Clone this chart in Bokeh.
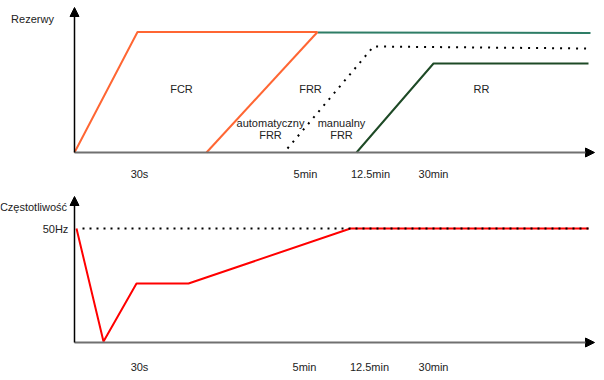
from bokeh.plotting import figure
from bokeh.models import Range1d, Arrow, NormalHead, ColumnDataSource
from bokeh.layouts import column
from bokeh.core.properties import value
from bokeh.embed import file_html
from bokeh.resources import INLINE

# ---- data (schematic diagram units: x = time position, y = level above baseline)
tick_labels = ["30s", "5min", "12.5min", "30min"]
tick_x_top = [65, 231, 296, 359]
tick_x_bot = [65, 230, 295, 359]

fcr_x = [0, 63, 243]
fcr_y = [0, 120.5, 120.5]
frr_auto_x = [132, 243]
frr_auto_y = [0, 120.5]
frr_total_x = [243, 516]
frr_total_y = [120, 119.5]
frr_manual_x = [213, 299, 515]
frr_manual_y = [4, 106, 104]
rr_x = [282, 359, 514]
rr_y = [0, 89, 89]

freq_x = [2, 29, 62, 114, 276, 514]
freq_y = [114, 1, 59, 59, 114, 114]
nominal_x = [8, 516]
nominal_y = [114, 114]

top_labels = ["Rezerwy", "FCR", "FRR", "automatyczny", "FRR", "manualny", "FRR", "RR"]
top_label_x = [-42, 107, 236, 196, 196, 267, 267, 407]
top_label_y = [134, 64, 64, 30, 18, 30, 18, 64]

bot_labels = ["Częstotliwość", "50Hz"]
bot_label_x = [-41, -19]
bot_label_y = [136, 114]

axis_x_len = 520
axis_y_len_top = 145
axis_y_len_bot = 146

FONT = value("Liberation Sans")
ORANGE = "#FF6633"
TEAL = "#2E7D66"
DKGREEN = "#1E4A26"


def make_fig(y0, y1):
    p = figure(width=604, height=190, x_range=Range1d(-74, 530), y_range=Range1d(y0, y1),
               output_backend="svg", toolbar_location=None, min_border=0,
               outline_line_color=None, background_fill_color="white")
    p.axis.visible = False
    p.grid.visible = False
    return p


def add_axes(p, ylen):
    p.add_layout(Arrow(end=NormalHead(size=9, fill_color="black", line_color="black"),
                       x_start=0, y_start=0, x_end=axis_x_len, y_end=0,
                       line_color="#707070", line_width=2))
    p.add_layout(Arrow(end=NormalHead(size=9, fill_color="black", line_color="black"),
                       x_start=0, y_start=0, x_end=0, y_end=ylen,
                       line_color="black", line_width=1.5))


def add_text(p, texts, xs, ys):
    src = ColumnDataSource(dict(x=xs, y=ys, t=texts))
    p.text(x="x", y="y", text="t", source=src, text_align="center", text_baseline="middle",
           text_font=FONT, text_font_size="11px", text_color="#222222")


# ---- top panel: reserves
p1 = make_fig(-38, 152)
add_axes(p1, axis_y_len_top)
p1.line(frr_total_x, frr_total_y, line_color=TEAL, line_width=2)
p1.line(fcr_x, fcr_y, line_color=ORANGE, line_width=2)
p1.line(frr_auto_x, frr_auto_y, line_color=ORANGE, line_width=2)
p1.line(frr_manual_x, frr_manual_y, line_color="black", line_width=2, line_dash="2 6")
p1.line(rr_x, rr_y, line_color=DKGREEN, line_width=2)
add_text(p1, top_labels, top_label_x, top_label_y)
add_text(p1, tick_labels, tick_x_top, [-21] * len(tick_labels))

# ---- bottom panel: frequency
p2 = make_fig(-38, 152)
add_axes(p2, axis_y_len_bot)
p2.line(freq_x, freq_y, line_color="#FF0000", line_width=2)
p2.line(nominal_x, nominal_y, line_color="black", line_width=2, line_dash="2 5")
add_text(p2, bot_labels, bot_label_x, bot_label_y)
add_text(p2, tick_labels, tick_x_bot, [-24] * len(tick_labels))

layout = column(p1, p2, spacing=0)
open("out.html", "w").write(file_html(layout, INLINE))
